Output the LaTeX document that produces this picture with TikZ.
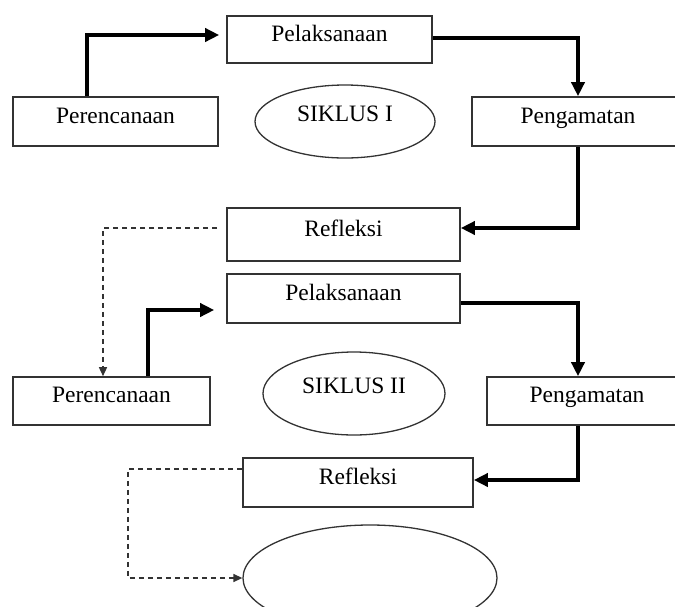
\documentclass[tikz,border=0pt]{standalone}
\usepackage{fontspec}
\setmainfont{Liberation Serif}
\usetikzlibrary{arrows.meta,shapes.geometric}
\begin{document}
\begin{tikzpicture}[x=1pt,y=-1pt,
  every node/.style={font=\fontsize{23.5}{28}\selectfont, text=black},
  box/.style={draw=black!80, line width=1.6pt, rectangle, inner sep=0pt,
    text height=16pt, text depth=13pt},
  oval/.style={draw=black!80, line width=1.3pt, ellipse, inner sep=0pt},
  flow/.style={line width=4pt, line join=miter, draw=black,
    -{Triangle[length=14pt,width=13pt]}},
  back/.style={line width=1.4pt, draw=black!80, dash pattern=on 5pt off 4pt,
    -{Triangle[length=9pt,width=8pt]}}]
\useasboundingbox (0,0) rectangle (675,606);
\clip (0,0) rectangle (675,606);

% cycle I
\node[box, minimum width=205, minimum height=47] (pel1) at (329.5,39.5) {Pelaksanaan};
\node[box, minimum width=205, minimum height=49] (per1) at (115.5,121.5) {Perencanaan};
\node[box, minimum width=212, minimum height=49] (pen1) at (578,121.5) {Pengamatan};
\node[oval, minimum width=180, minimum height=73,
  label={[yshift=8pt]center:SIKLUS I}] (e1) at (345,121.5) {};
\node[box, minimum width=233, minimum height=53] (ref1) at (343.5,234.5) {Refleksi};

% cycle II
\node[box, minimum width=233, minimum height=49] (pel2) at (343.5,298.5) {Pelaksanaan};
\node[box, minimum width=197, minimum height=48] (per2) at (111.5,401) {Perencanaan};
\node[box, minimum width=200, minimum height=48] (pen2) at (587,401) {Pengamatan};
\node[oval, minimum width=182, minimum height=83,
  label={[yshift=8pt]center:SIKLUS II}] (e2) at (354,393.5) {};
\node[box, minimum width=230, minimum height=49] (ref2) at (358,482.5) {Refleksi};

% next cycle
\node[oval, minimum width=254, minimum height=106] (e3) at (370,578) {};
\coordinate (dcorner) at (128,578);

% connectors
\draw[flow] ([xshift=-28.5pt]per1.north) |- ([xshift=-7pt,yshift=4.5pt]pel1.west);
\draw[flow] ([yshift=1.5pt]pel1.east) -| (pen1.north);
\draw[flow] (pen1.south) |- ([yshift=6.5pt]ref1.east);
\draw[back] ([xshift=-9pt,yshift=6.5pt]ref1.west) -| ([xshift=-8.5pt]per2.north);
\draw[flow] ([xshift=36.5pt]per2.north) |- ([xshift=-12pt,yshift=-11.5pt]pel2.west);
\draw[flow] ([yshift=-4.5pt]pel2.east) -| ([xshift=-9pt]pen2.north);
\draw[flow] ([xshift=-9pt]pen2.south) |- ([yshift=2.5pt]ref2.east);
\draw[back] ([yshift=13.5pt]ref2.west) -| (dcorner) -- (e3.west);
\end{tikzpicture}
\end{document}
